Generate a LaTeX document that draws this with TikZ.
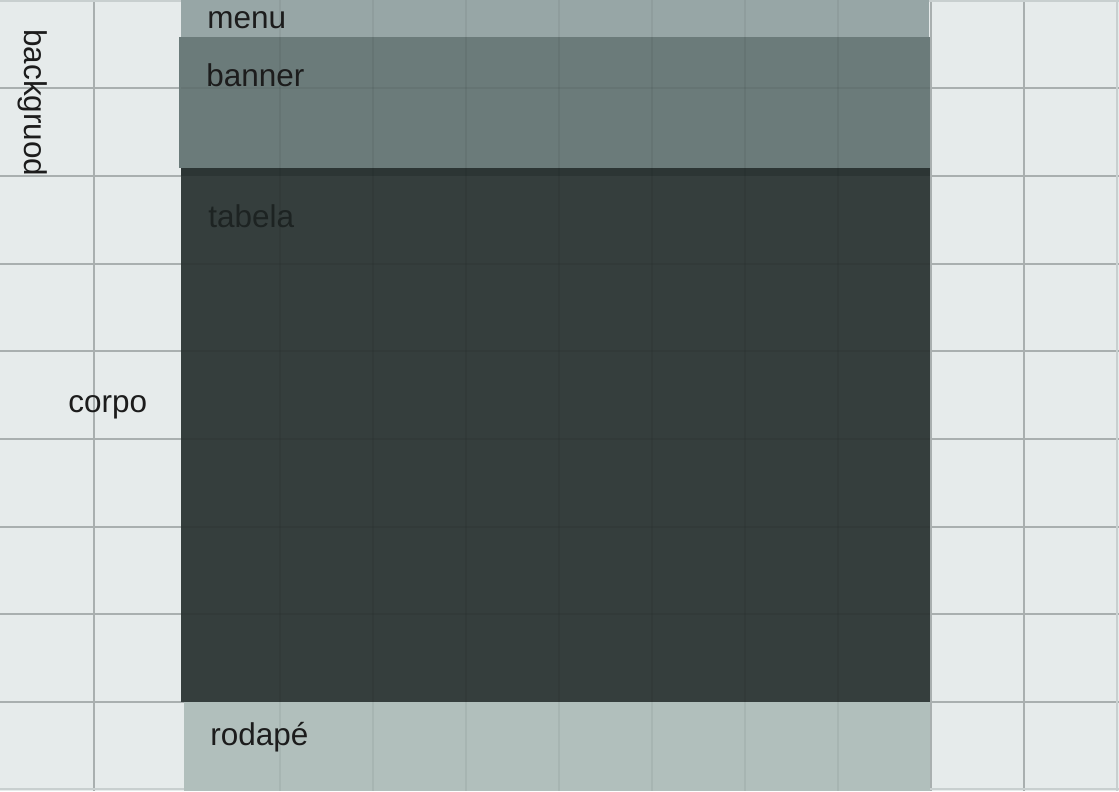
\documentclass[tikz,border=0pt]{standalone}
\usepackage{fontspec}
\setmainfont{Liberation Sans}
\usetikzlibrary{positioning}

\definecolor{fundo}{HTML}{E6EBEB}
\definecolor{linha}{HTML}{A9AFAF}
\definecolor{borda}{HTML}{C8CFCF}
\definecolor{menu}{HTML}{97A6A6}
\definecolor{banner}{HTML}{6B7B7A}
\definecolor{faixa}{HTML}{2C3534}
\definecolor{tabela}{HTML}{353E3D}
\definecolor{rodape}{HTML}{B1BFBC}
\definecolor{texto}{HTML}{1C1C1C}
\definecolor{textoescuro}{HTML}{1D2322}

\begin{document}
\begin{tikzpicture}[x=0.025cm,y=-0.025cm,every node/.style={font=\fontsize{22.4}{26}\selectfont,text=texto,inner sep=0pt,anchor=base west},grade/.style={draw=linha,line width=1pt},gradepainel/.style={draw=black,opacity=0.05,line width=1pt}]

\useasboundingbox (0,0) rectangle (1119,791);
\fill[fundo] (0,0) rectangle (1119,791);

\foreach \x in {94,187,...,1024} \draw[grade] (\x,0) -- (\x,791);
\foreach \y in {88,176,264,351,439,527,614,702} \draw[grade] (0,\y) -- (1119,\y);
\foreach \y in {1,789} \draw[draw=borda,line width=1pt] (0,\y) -- (1119,\y);
\draw[draw=borda,line width=1pt] (1117,0) -- (1117,791);

\fill[menu] (181,0) rectangle (929,37);
\fill[banner] (179,37) rectangle (930,168);
\fill[faixa] (181,168) rectangle (930,176);
\fill[tabela] (181,176) rectangle (930,702);
\fill[rodape] (184,702) rectangle (930,791);

%grade por baixo do painel
\foreach \x in {280,373,...,838} \draw[gradepainel] (\x,0) -- (\x,791);
\foreach \y in {88,264,351,439,527,614} \draw[gradepainel] (181,\y) -- (930,\y);

\node (menu) at (207,28) {menu};
\node (banner) at (206,86) {banner};
\node[text=textoescuro] (tabela) at (208,227) {tabela};
\node (rodape) at (210,745) {rodapé};
\node (corpo) at (68,412) {corpo};
\node[rotate=-90] (background) at (25,29) {backgruod};
\end{tikzpicture}
\end{document}
